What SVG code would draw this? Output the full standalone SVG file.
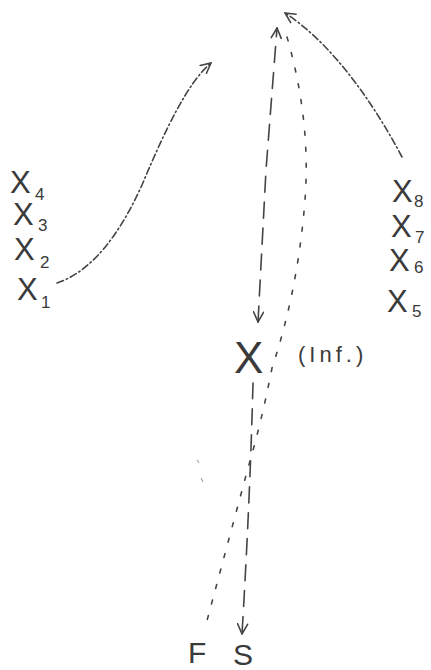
<svg xmlns="http://www.w3.org/2000/svg" width="431" height="670" viewBox="0 0 431 670">
<defs>
<style>
.t{font-family:"Liberation Sans","DejaVu Sans",sans-serif;fill:#3a3a3a;}
.big{font-size:31px;}
.sub{font-size:17px;}
.c{fill:none;stroke:#444;stroke-width:1.6;stroke-linecap:round;}
.dd{stroke-dasharray:7 3 1.5 3;}
.da{stroke-dasharray:16 10;}
.dt{stroke-dasharray:4 12;}
</style>
<marker id="ah" viewBox="0 0 12 12" refX="11" refY="6" markerWidth="12" markerHeight="12" markerUnits="userSpaceOnUse" orient="auto-start-reverse">
<path d="M1,1 L11,6 L1,11" fill="none" stroke="#444" stroke-width="1.6" stroke-linecap="round"/>
</marker>
</defs>
<rect width="431" height="670" fill="#fff"/>
<g id="connectors">
<path class="c dd" d="M57,283 C90,272 118,238 142,185 C165,130 188,82 211,63" marker-end="url(#ah)"/>
<path class="c dd" d="M402,157 C372,100 330,42 285,13" marker-end="url(#ah)"/>
<path class="c da" d="M258,322 L266,170 L277,28" marker-start="url(#ah)" marker-end="url(#ah)"/>
<path class="c dt" d="M287,37 Q311,120 305,200 Q298,290 272,368 Q262,420 248,468 L205,628"/>
<path class="c da" d="M253,383 Q250,500 242,634" marker-end="url(#ah)"/>
<path d="M197,460 l2,3 M201,478 l2,4" stroke="#aaa" stroke-width="1.2" fill="none"/>
</g>
<g id="x4"><text class="t big" x="10" y="193">X</text><text class="t sub" x="35" y="200">4</text></g>
<g id="x3"><text class="t big" x="13" y="225">X</text><text class="t sub" x="38" y="231">3</text></g>
<g id="x2"><text class="t big" x="14" y="260">X</text><text class="t sub" x="40" y="268">2</text></g>
<g id="x1"><text class="t big" x="17" y="300">X</text><text class="t sub" x="41" y="308">1</text></g>
<g id="x8"><text class="t big" x="392" y="202">X</text><text class="t sub" x="414" y="207">8</text></g>
<g id="x7"><text class="t big" x="391" y="237">X</text><text class="t sub" x="415" y="243">7</text></g>
<g id="x6"><text class="t big" x="389" y="271">X</text><text class="t sub" x="414" y="273">6</text></g>
<g id="x5"><text class="t big" x="387" y="312">X</text><text class="t sub" x="412" y="317">5</text></g>
<g id="x"><text class="t" x="234" y="373" font-size="44">X</text></g>
<g id="inf"><text class="t" x="298" y="362" font-size="22" letter-spacing="4">(Inf.)</text></g>
<g id="f"><text class="t" x="188" y="663" font-size="30">F</text></g>
<g id="s"><text class="t" x="233" y="665" font-size="30">S</text></g>
</svg>
